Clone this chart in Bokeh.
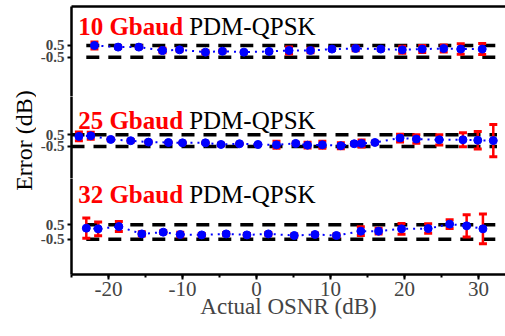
import math
from bokeh.plotting import figure
from bokeh.layouts import column, row
from bokeh.models import Range1d, FixedTicker, SingleIntervalTicker, LinearAxis, Label
from bokeh.embed import file_html
from bokeh.resources import INLINE

# ---- data ----
X1 = [-21.9, -18.7, -15.9, -12.7, -10.4, -6.9, -4.6, -1.7, 1.7, 4.4, 7.3, 10.2, 13.4, 16.8, 19.7, 22.4, 25.3, 27.6, 30.5]
Y1 = [0.5, 0.36, 0.36, 0.07, 0.13, -0.07, 0.01, -0.07, -0.01, 0.07, 0.07, 0.19, 0.24, 0.19, 0.13, 0.19, 0.24, 0.19, 0.19]
E1 = [0.3, 0.1, 0.1, 0.2, 0.1, 0.15, 0.1, 0.05, 0.05, 0.3, 0.2, 0.1, 0.2, 0.1, 0.3, 0.3, 0.3, 0.45, 0.47]

X2 = [-24.0, -22.4, -19.7, -17.0, -14.6, -11.9, -10.0, -6.9, -4.8, -2.3, 0.2, 2.7, 5.3, 6.9, 8.9, 11.4, 13.2, 14.2, 16.0, 19.4, 21.6, 24.7, 27.9, 29.9, 32.0]
Y2 = [0.36, 0.41, 0.10, -0.01, -0.13, -0.16, -0.19, -0.19, -0.33, -0.27, -0.33, -0.36, -0.24, -0.39, -0.36, -0.44, -0.27, -0.24, -0.16, 0.22, 0.13, 0.07, 0.07, 0.03, 0.0]
E2 = [0.38, 0.3, 0.1, 0.1, 0.1, 0.05, 0.05, 0.05, 0.1, 0.05, 0.05, 0.3, 0.1, 0.25, 0.3, 0.25, 0.1, 0.3, 0.1, 0.33, 0.36, 0.44, 0.6, 0.74, 1.37]

X3 = [-23.0, -21.4, -18.6, -15.5, -12.6, -10.3, -7.4, -4.1, -1.3, 1.6, 5.1, 7.9, 10.8, 14.1, 16.5, 19.6, 23.2, 26.1, 28.4, 30.6]
Y3 = [0.27, 0.22, 0.38, -0.13, -0.01, -0.17, -0.2, -0.13, -0.2, -0.13, -0.24, -0.17, -0.24, 0.06, 0.06, 0.22, 0.24, 0.55, 0.43, 0.22]
E3 = [0.7, 0.47, 0.35, 0.15, 0.1, 0.15, 0.1, 0.1, 0.1, 0.1, 0.1, 0.1, 0.1, 0.3, 0.2, 0.38, 0.33, 0.31, 0.78, 1.04]

RATES = ["10 Gbaud", "25 Gbaud", "32 Gbaud"]
FORMAT = "PDM-QPSK"
Y_TITLE = "Error (dB)"
X_TITLE = "Actual OSNR (dB)"
LIMITS = [0.5, -0.5]
LIMIT_LABELS = {0.5: "0.5", -0.5: "-0.5"}
XTICK_LABELS = {-20: "-20", -10: "-10", 0: "0", 10: "10", 20: "20", 30: "30"}
LIMIT_X = [[-23, 32.5], [-25, 32.5], [-23, 32.5]]
XLIM = (-25, 33.65)
YLIMS = [(-3.86, 3.83), (-3.24, 3.77), (-2.95, 3.72)]
TITLE_Y = [1.53, 1.12, 2.12]

SERIF = "Liberation Serif"
LABEL_W = 36
TOTAL_H = 328


def make_panel(i, xs, ys, es, height, top=False, bottom=False):
    p = figure(width=505 - LABEL_W, height=height, output_backend="svg", toolbar_location=None,
               x_range=Range1d(*XLIM), y_range=Range1d(*YLIMS[i]),
               x_axis_location="below" if bottom else None,
               min_border_left=71 - LABEL_W, min_border_right=0,
               min_border_top=6 if top else 0, min_border_bottom=54 if bottom else 0)
    p.outline_line_color = None
    p.grid.visible = False
    p.background_fill_color = "white"
    p.border_fill_color = "white"

    ya = p.yaxis[0]
    ya.ticker = FixedTicker(ticks=LIMITS)
    ya.major_label_overrides = LIMIT_LABELS
    ya.axis_line_width = 2.5
    ya.major_tick_line_width = 2
    ya.major_tick_out = 4
    ya.major_tick_in = 0
    ya.minor_tick_line_color = None
    ya.major_label_text_font = SERIF
    ya.major_label_text_font_style = "bold"
    ya.major_label_text_font_size = "15px"
    ya.major_label_standoff = 3

    if top:
        ta = LinearAxis(ticker=FixedTicker(ticks=[]), axis_line_width=2.5,
                        major_tick_line_color=None, minor_tick_line_color=None,
                        major_label_text_font_size="0px")
        p.add_layout(ta, "above")

    if bottom:
        xa = p.xaxis[0]
        xa.ticker = SingleIntervalTicker(interval=10, num_minor_ticks=2)
        xa.major_label_overrides = XTICK_LABELS
        xa.axis_line_width = 2.5
        xa.major_tick_line_width = 2
        xa.minor_tick_line_width = 2
        xa.major_tick_out = 5
        xa.major_tick_in = 0
        xa.minor_tick_out = 3
        xa.minor_tick_in = 0
        xa.major_label_text_font = SERIF
        xa.major_label_text_font_size = "21px"
        xa.major_label_standoff = 2
        xa.axis_label = X_TITLE
        xa.axis_label_text_font = SERIF
        xa.axis_label_text_font_style = "normal"
        xa.axis_label_text_font_size = "23px"
        xa.axis_label_standoff = -5

    for lv in LIMITS:
        p.line(LIMIT_X[i], [lv, lv], line_color="black", line_width=3.5, line_dash="13 9")

    p.line(xs, ys, line_color="blue", line_width=2, line_dash="2 5")
    lo = [y - e for y, e in zip(ys, es)]
    hi = [y + e for y, e in zip(ys, es)]
    p.segment(xs, lo, xs, hi, line_color="red", line_width=2.5)
    p.scatter(xs, lo, marker="dash", size=8, line_color="red", line_width=3)
    p.scatter(xs, hi, marker="dash", size=8, line_color="red", line_width=3)
    p.scatter(xs, ys, marker="circle", size=8, fill_color="blue", line_color="blue")

    p.add_layout(Label(x=-24.1, y=TITLE_Y[i], y_offset=7, text=RATES[i], text_color="red",
                       text_font=SERIF, text_font_style="bold", text_font_size="25px",
                       text_baseline="alphabetic"))
    p.add_layout(Label(x=-24.1, y=TITLE_Y[i], x_offset=111, y_offset=7, text=FORMAT,
                       text_color="black", text_font=SERIF, text_font_style="normal",
                       text_font_size="25px", text_baseline="alphabetic"))
    return p


f1 = make_panel(0, X1, Y1, E1, 96, top=True)
f2 = make_panel(1, X2, Y2, E2, 82)
f3 = make_panel(2, X3, Y3, E3, 150, bottom=True)

# narrow strip carrying the shared y-axis title
lab = figure(width=LABEL_W, height=TOTAL_H, output_backend="svg", toolbar_location=None,
             x_range=Range1d(0, 1), y_range=Range1d(0, 1),
             x_axis_location=None, y_axis_location=None,
             min_border_left=0, min_border_right=0, min_border_top=0, min_border_bottom=0)
lab.outline_line_color = None
lab.grid.visible = False
lab.add_layout(Label(x=0.64, y=0.573, text=Y_TITLE, angle=math.pi / 2,
                     text_font=SERIF, text_font_size="24px", text_color="black",
                     text_align="center", text_baseline="middle"))

layout = row(lab, column(f1, f2, f3, spacing=0), spacing=0)

open("out.html", "w").write(file_html(layout, INLINE))
